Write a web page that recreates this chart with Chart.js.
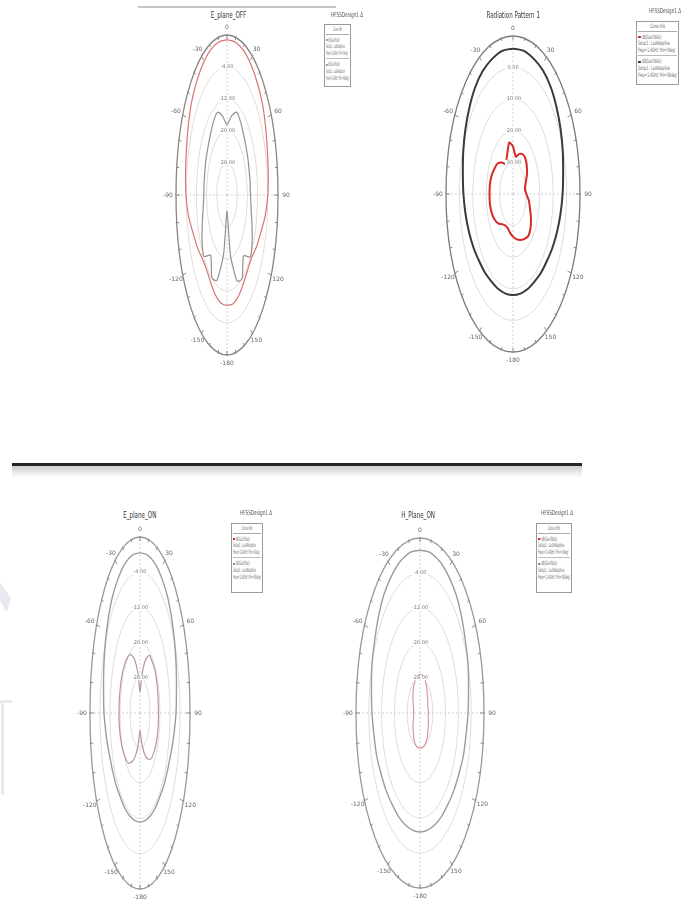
<!DOCTYPE html>
<html>
<head>
<meta charset="utf-8">
<script src="https://cdn.jsdelivr.net/npm/chart.js@4/dist/chart.umd.min.js"></script>
<style>
  html, body { margin: 0; padding: 0; background: #fff; }
  body { width: 688px; height: 904px; position: relative; overflow: hidden; font-family: "DejaVu Sans", sans-serif; }
  .plot { position: absolute; }
  .title { position: absolute; width: 120px; margin-left: -60px; text-align: center; font-size: 9px; color: #333; white-space: nowrap; z-index: 3; }
  .title span { display: inline-block; transform: scaleX(0.62); }
  .lhead { position: absolute; font-size: 7px; color: #555; white-space: nowrap; z-index: 3; transform-origin: left center; }
  .legend { position: absolute; border: 1px solid #9a9a9a; background: #fff; z-index: 3; box-sizing: border-box; padding: 1px 1px; overflow: hidden; }
  .legend .ln { font-size: 6px; line-height: 6.6px; color: #666; white-space: nowrap; transform-origin: left center; }
  .legend .hd { text-align: center; border-bottom: 1px solid #aaa; margin-bottom: 2px; padding-bottom: 1px; }
  .legend .sep { border-top: 1px solid #bbb; margin: 2px 0; }
  .mk { display: inline-block; width: 6px; height: 2px; vertical-align: middle; margin-right: 2px; }
  .topline { position: absolute; left: 138px; top: 6px; width: 198px; height: 2px; background: #c4c4c4; }
  .rule { position: absolute; left: 12px; top: 463px; width: 570px; height: 3px; background: #262626; }
  .rule-shade { position: absolute; left: 12px; top: 466px; width: 570px; height: 12px; background: linear-gradient(#cfcfcf, #fff); }
  .wm1 { position: absolute; left: 0; top: 582px; width: 11px; height: 30px; background: #e6eaee; clip-path: polygon(0 0, 100% 55%, 60% 100%, 0 60%); }
  .wm2 { position: absolute; left: 0; top: 700px; width: 12px; height: 95px; border-top: 3px solid #e8ebee; box-sizing: border-box; }
  .wm2::before { content: ""; position: absolute; left: 1px; top: 0; width: 3px; height: 92px; background: #e8ebee; }
</style>
</head>
<body>
<div class="topline"></div>
<div class="rule"></div>
<div class="rule-shade"></div>
<div class="wm1"></div>
<div class="wm2"></div>

<div class="plot" id="p1"><canvas id="c1"></canvas></div>
<div class="plot" id="p2"><canvas id="c2"></canvas></div>
<div class="plot" id="p3"><canvas id="c3"></canvas></div>
<div class="plot" id="p4"><canvas id="c4"></canvas></div>

<div class="title" style="left:229px; top:10px;"><span>E_plane_OFF</span></div>
<div class="title" style="left:513px; top:10px;"><span>Radiation Pattern 1</span></div>
<div class="title" style="left:140px; top:510px;"><span>E_plane_ON</span></div>
<div class="title" style="left:418px; top:510px;"><span>H_Plane_ON</span></div>

<script>
// angle categories, 10 degree steps, clockwise from top
const angles = ['0', '10', '20', '30', '40', '50', '60', '70', '80', '90', '100', '110', '120', '130', '140', '150', '160', '170',
    '-180', '-170', '-160', '-150', '-140', '-130', '-120', '-110', '-100', '-90', '-80', '-70', '-60', '-50', '-40', '-30', '-20', '-10'];

// E_plane_OFF
const ePlaneOffTicks = [-36, -28, -20, -12, -4, 4];
const ePlaneOffPhi0 = [2.8, 2.8, 2.4, 1.6, 0.8, 0.0, -1.2, -2.4, -3.2, -4.0, -5.6, -8.0, -9.6, -11.2, -11.2, -10.4, -9.2, -8.4,
    -8.4, -8.6, -9.4, -10.6, -11.4, -11.0, -9.4, -7.8, -5.4, -3.8, -3.0, -2.2, -1.0, 0.2, 1.0, 1.8, 2.5, 2.8];
const ePlaneOffPhi90 = [-18.4, -16.0, -14.0, -14.8, -16.0, -16.8, -17.2, -17.6, -17.6, -17.6, -16.8, -15.2, -13.2, -12.0, -16.0, -12.0, -13.2, -20.8,
    -32.0, -21.2, -13.4, -12.2, -16.2, -12.2, -13.4, -15.4, -17.0, -17.8, -17.8, -17.6, -17.2, -16.8, -16.0, -14.8, -14.0, -16.0];

// Radiation Pattern 1
const radPatternTicks = [-40, -30, -20, -10, 0, 10];
const radPatternPhi0 = [-25, -28, -26.5, -25.5, -25.5, -26.5, -28, -30, -31, -30, -28, -26.5, -24.5, -23, -22.5, -23.5, -24.5, -25.5,
    -26.5, -27.5, -28.5, -28.5, -27.5, -25.5, -24, -23, -22.5, -22.5, -22.5, -23, -24, -25, -27, -29, -27, -23.5];
const radPatternPhi90 = [6, 6, 5.5, 5, 4, 2.5, 1, -0.5, -2, -3, -4, -5, -6, -7, -7.5, -8, -8, -8,
    -8, -8, -8, -8, -7.5, -7, -6, -5, -4, -3, -2, -0.5, 1, 2.5, 4, 5, 5.5, 6];

// E_plane_ON
const ePlaneOnTicks = [-36, -28, -20, -12, -4, 4];
const ePlaneOnPhi0 = [-31.2, -27.2, -23.2, -20.8, -20.8, -20.6, -20.8, -21.0, -21.2, -21.2, -21.2, -21.2, -21.4, -21.8, -22.4, -24.0, -26.4, -29.6,
    -32.0, -29.2, -25.8, -23.2, -21.2, -20.4, -19.8, -19.4, -19.2, -19.2, -19.2, -19.2, -19.2, -19.4, -19.8, -20.6, -23.0, -27.0];
const ePlaneOnPhi90 = [0.4, 0.4, 0.0, -0.8, -1.6, -2.8, -4.0, -5.2, -6.4, -7.2, -8.4, -9.6, -10.4, -10.8, -11.2, -11.2, -11.2, -11.2,
    -11.2, -11.2, -11.2, -11.2, -11.2, -10.8, -10.4, -9.6, -8.4, -7.2, -6.4, -5.2, -4.0, -2.8, -1.6, -0.8, 0.0, 0.4];

// H_Plane_ON
const hPlaneOnTicks = [-36, -28, -20, -12, -4, 4];
const hPlaneOnPhi0 = [-27.2, -27.2, -27.6, -28.4, -29.2, -30.0, -30.4, -30.8, -30.8, -30.8, -30.8, -30.4, -30.0, -29.6, -28.8, -28.4, -28.0, -28.0,
    -28.0, -28.0, -28.2, -28.8, -29.6, -30.4, -31.0, -31.6, -32.0, -32.0, -32.0, -31.6, -31.0, -30.2, -29.4, -28.6, -27.8, -27.4];
const hPlaneOnPhi90 = [1.2, 1.2, 0.8, 0.0, -0.8, -2.0, -3.2, -4.0, -5.2, -6.0, -6.8, -7.2, -8.0, -8.4, -8.8, -8.8, -8.8, -8.8,
    -8.8, -8.8, -8.8, -8.8, -8.8, -8.4, -8.0, -7.2, -6.8, -6.0, -5.2, -4.0, -3.2, -2.0, -0.8, 0.0, 0.8, 1.2];

// squeeze the round radar into the stretched ellipse of the scan
const squash = {
    id: 'squash',
    beforeDraw(chart, args, opts) {
        const s = chart.scales.r, ctx = chart.ctx;
        if (!ctx.__flat) {
            // keep stroke widths even after the anisotropic scale
            const stroke = ctx.stroke;
            ctx.stroke = function (p) {
                const m = this.getTransform();
                this.save();
                this.setTransform(1, 0, 0, 1, 0, 0);
                if (p) {
                    const q = new Path2D();
                    q.addPath(p, m);
                    stroke.call(this, q);
                } else {
                    stroke.call(this);
                }
                this.restore();
            };
            ctx.__flat = true;
        }
        ctx.save();
        ctx.translate(s.xCenter, s.yCenter);
        ctx.scale(opts.rx / s.drawingArea, opts.ry / s.drawingArea);
        ctx.translate(-s.xCenter, -s.yCenter);
    },
    afterDraw(chart, args, opts) {
        const s = chart.scales.r, ctx = chart.ctx;
        ctx.restore();
        const R = s.drawingArea, cx = s.xCenter, cy = s.yCenter;
        ctx.save();
        ctx.strokeStyle = '#8a8a8a';
        ctx.lineWidth = 1;
        ctx.fillStyle = '#666';
        ctx.font = '6px "DejaVu Sans"';
        ctx.textAlign = 'center';
        ctx.textBaseline = 'middle';
        chart.data.labels.forEach((lab, i) => {
            const p = s.getPointPosition(i, R);
            const ux = (p.x - cx) / R, uy = (p.y - cy) / R;
            const major = Number(lab) % 30 === 0;
            const L = major ? 4 : 2.5;
            ctx.beginPath();
            ctx.moveTo(cx + ux * (opts.rx - L), cy + uy * (opts.ry - L));
            ctx.lineTo(cx + ux * (opts.rx + 1), cy + uy * (opts.ry + 1));
            ctx.stroke();
            if (major) ctx.fillText(lab, cx + ux * (opts.rx + 8), cy + uy * (opts.ry + 8));
        });
        ctx.font = '5px "DejaVu Sans"';
        s.ticks.forEach((t, i) => {
            if (i === 0 || i === s.ticks.length - 1) return;
            const d = s.getDistanceFromCenterForValue(t.value) / R * opts.ry;
            ctx.fillStyle = '#fff';
            ctx.fillRect(cx - 8, cy - d - 2.5, 16, 5);
            ctx.fillStyle = '#777';
            ctx.fillText(t.value.toFixed(2), cx, cy - d);
        });
        ctx.restore();
    }
};

function polarChart(n, cx, cy, rx, ry, ticks, ringColor, series) {
    const size = 2 * ry + 30;
    const box = document.getElementById('p' + n);
    box.style.left = (cx - size / 2) + 'px';
    box.style.top = (cy - size / 2) + 'px';
    box.style.width = size + 'px';
    box.style.height = size + 'px';
    const last = ticks.length - 1;
    new Chart(document.getElementById('c' + n), {
        type: 'radar',
        data: {
            labels: angles,
            datasets: series.map(d => ({
                data: d.data,
                borderColor: d.color,
                borderWidth: d.width,
                fill: false,
                pointRadius: 0,
                tension: 0.2
            }))
        },
        options: {
            responsive: true,
            maintainAspectRatio: false,
            animation: false,
            events: [],
            layout: { padding: 0 },
            plugins: {
                legend: { display: false },
                tooltip: { enabled: false },
                squash: { rx: rx, ry: ry }
            },
            scales: {
                r: {
                    min: ticks[0],
                    max: ticks[last],
                    ticks: { stepSize: ticks[1] - ticks[0], display: false },
                    pointLabels: { display: false },
                    grid: {
                        circular: true,
                        color: c => c.index === last ? ringColor : '#e0dcdc',
                        lineWidth: c => c.index === last ? 1.3 : 1
                    },
                    angleLines: {
                        color: c => c.index % 9 === 0 ? '#d2d2d2' : 'rgba(0,0,0,0)',
                        lineWidth: 1,
                        borderDash: [2, 2]
                    }
                }
            }
        },
        plugins: [squash]
    });
}

polarChart(1, 227, 195, 51, 160, ePlaneOffTicks, '#858585', [
    { data: ePlaneOffPhi0, color: '#d77474', width: 1.2 },
    { data: ePlaneOffPhi90, color: '#929292', width: 1.2 }
]);
polarChart(2, 513, 194, 67, 158, radPatternTicks, '#7a7a7a', [
    { data: radPatternPhi0, color: '#d42a2a', width: 2 },
    { data: radPatternPhi90, color: '#3a3a3a', width: 2 }
]);
polarChart(3, 140, 713, 50, 176, ePlaneOnTicks, '#9a9a9a', [
    { data: ePlaneOnPhi0, color: '#bb9696', width: 1.2 },
    { data: ePlaneOnPhi90, color: '#9c9c9c', width: 1.4 }
]);
polarChart(4, 420, 713, 64, 175, hPlaneOnTicks, '#9a9a9a', [
    { data: hPlaneOnPhi0, color: '#db9090', width: 1.1 },
    { data: hPlaneOnPhi90, color: '#9c9c9c', width: 1.4 }
]);

// HFSS style legends
function makeLegend(x, y, w, h, hx, hy, c1, c2) {
    const head = document.createElement('div');
    head.className = 'lhead';
    head.style.left = hx + 'px';
    head.style.top = hy + 'px';
    head.textContent = 'HFSSDesign1 \u0394';
    document.body.appendChild(head);
    const box = document.createElement('div');
    box.className = 'legend';
    box.style.left = x + 'px';
    box.style.top = y + 'px';
    box.style.width = w + 'px';
    box.style.height = h + 'px';
    box.innerHTML =
        '<div class="ln hd">Curve Info</div>' +
        '<div class="ln"><span class="mk" style="background:' + c1 + '"></span>dB(GainTotal)</div>' +
        '<div class="ln">Setup1 : LastAdaptive</div>' +
        '<div class="ln">Freq=\'2.4GHz\' Phi=\'0deg\'</div>' +
        '<div class="sep"></div>' +
        '<div class="ln"><span class="mk" style="background:' + c2 + '"></span>dB(GainTotal)</div>' +
        '<div class="ln">Setup1 : LastAdaptive</div>' +
        '<div class="ln">Freq=\'2.4GHz\' Phi=\'90deg\'</div>';
    document.body.appendChild(box);
    const lines = box.querySelectorAll('.ln');
    let widest = 0;
    lines.forEach(l => { widest = Math.max(widest, l.scrollWidth); });
    const k = (w - 4) / widest;
    lines.forEach(l => {
        l.style.transform = 'scaleX(' + k + ')';
        if (l.classList.contains('hd')) l.style.width = (w - 4) / k + 'px';
    });
    head.style.transform = 'scaleX(0.6)';
}

makeLegend(324, 24, 27, 63, 331, 11, '#8e8e8e', '#8e8e8e');
makeLegend(636, 21, 43, 64, 649, 7, '#d42a2a', '#3a3a3a');
makeLegend(231, 523, 32, 70, 240, 509, '#d42a2a', '#8a8a8a');
makeLegend(536, 523, 36, 70, 541, 509, '#d42a2a', '#8a8a8a');
</script>
</body>
</html>
